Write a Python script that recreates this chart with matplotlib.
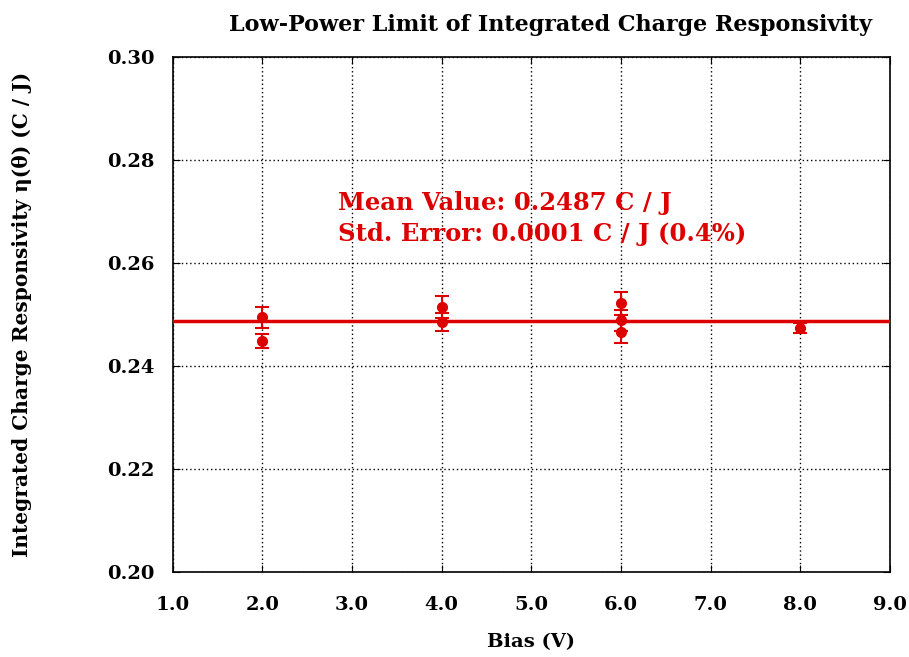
import matplotlib
matplotlib.use("Agg")
import matplotlib.pyplot as plt

# data
bias = [2.0, 2.0, 4.0, 4.0, 6.0, 6.0, 6.0, 8.0]
resp = [0.2495, 0.2449, 0.2515, 0.2486, 0.2522, 0.2489, 0.2466, 0.2474]
err = [0.0020, 0.0013, 0.0022, 0.0018, 0.0023, 0.0020, 0.0020, 0.0010]
mean_value = 0.2488

x_ticks = [1.0, 2.0, 3.0, 4.0, 5.0, 6.0, 7.0, 8.0, 9.0]
y_ticks = [0.20, 0.22, 0.24, 0.26, 0.28, 0.30]

red = "#dd0000"
plt.rcParams["font.family"] = ["DejaVu Serif"]
plt.rcParams["font.weight"] = "bold"

fig = plt.figure(figsize=(9.09, 6.57), dpi=100)
ax = fig.add_axes([0.190, 0.129, 0.789, 0.784])

ax.axhline(mean_value, color=red, lw=2.5, zorder=3)
ax.errorbar(bias, resp, yerr=err, fmt="o", color=red, ms=7, elinewidth=1.5,
            capsize=5, capthick=1.5, zorder=4)

ax.set_xlim(1.0, 9.0)
ax.set_ylim(0.20, 0.30)
ax.set_xticks(x_ticks)
ax.set_yticks(y_ticks)
ax.set_xticklabels(["%.1f" % v for v in x_ticks])
ax.set_yticklabels(["%.2f" % v for v in y_ticks])
ax.tick_params(direction="in", length=5, labelsize=14, top=True, right=True)
ax.tick_params(axis="x", pad=17)
ax.tick_params(axis="y", pad=13)
ax.grid(True, color="black", linestyle=(0, (1, 2)), lw=1)
for s in ax.spines.values():
    s.set_linewidth(1.2)

ax.text(2.84, 0.2717, "Mean Value: 0.2487 C / J", color=red, fontsize=17.5,
        fontweight="bold", va="center")
ax.text(2.84, 0.2656, "Std. Error: 0.0001 C / J (0.4%)", color=red, fontsize=17.5,
        fontweight="bold", va="center")

ax.set_title("Low-Power Limit of Integrated Charge Responsivity", fontsize=16,
             fontweight="bold", pad=19, x=0.527)
ax.set_xlabel("Bias (V)", fontsize=14, fontweight="bold", labelpad=14)
ax.set_ylabel("Integrated Charge Responsivity η(θ) (C / J)", fontsize=14.5,
              fontweight="bold", labelpad=54)

fig.savefig("out.png", dpi=100)
